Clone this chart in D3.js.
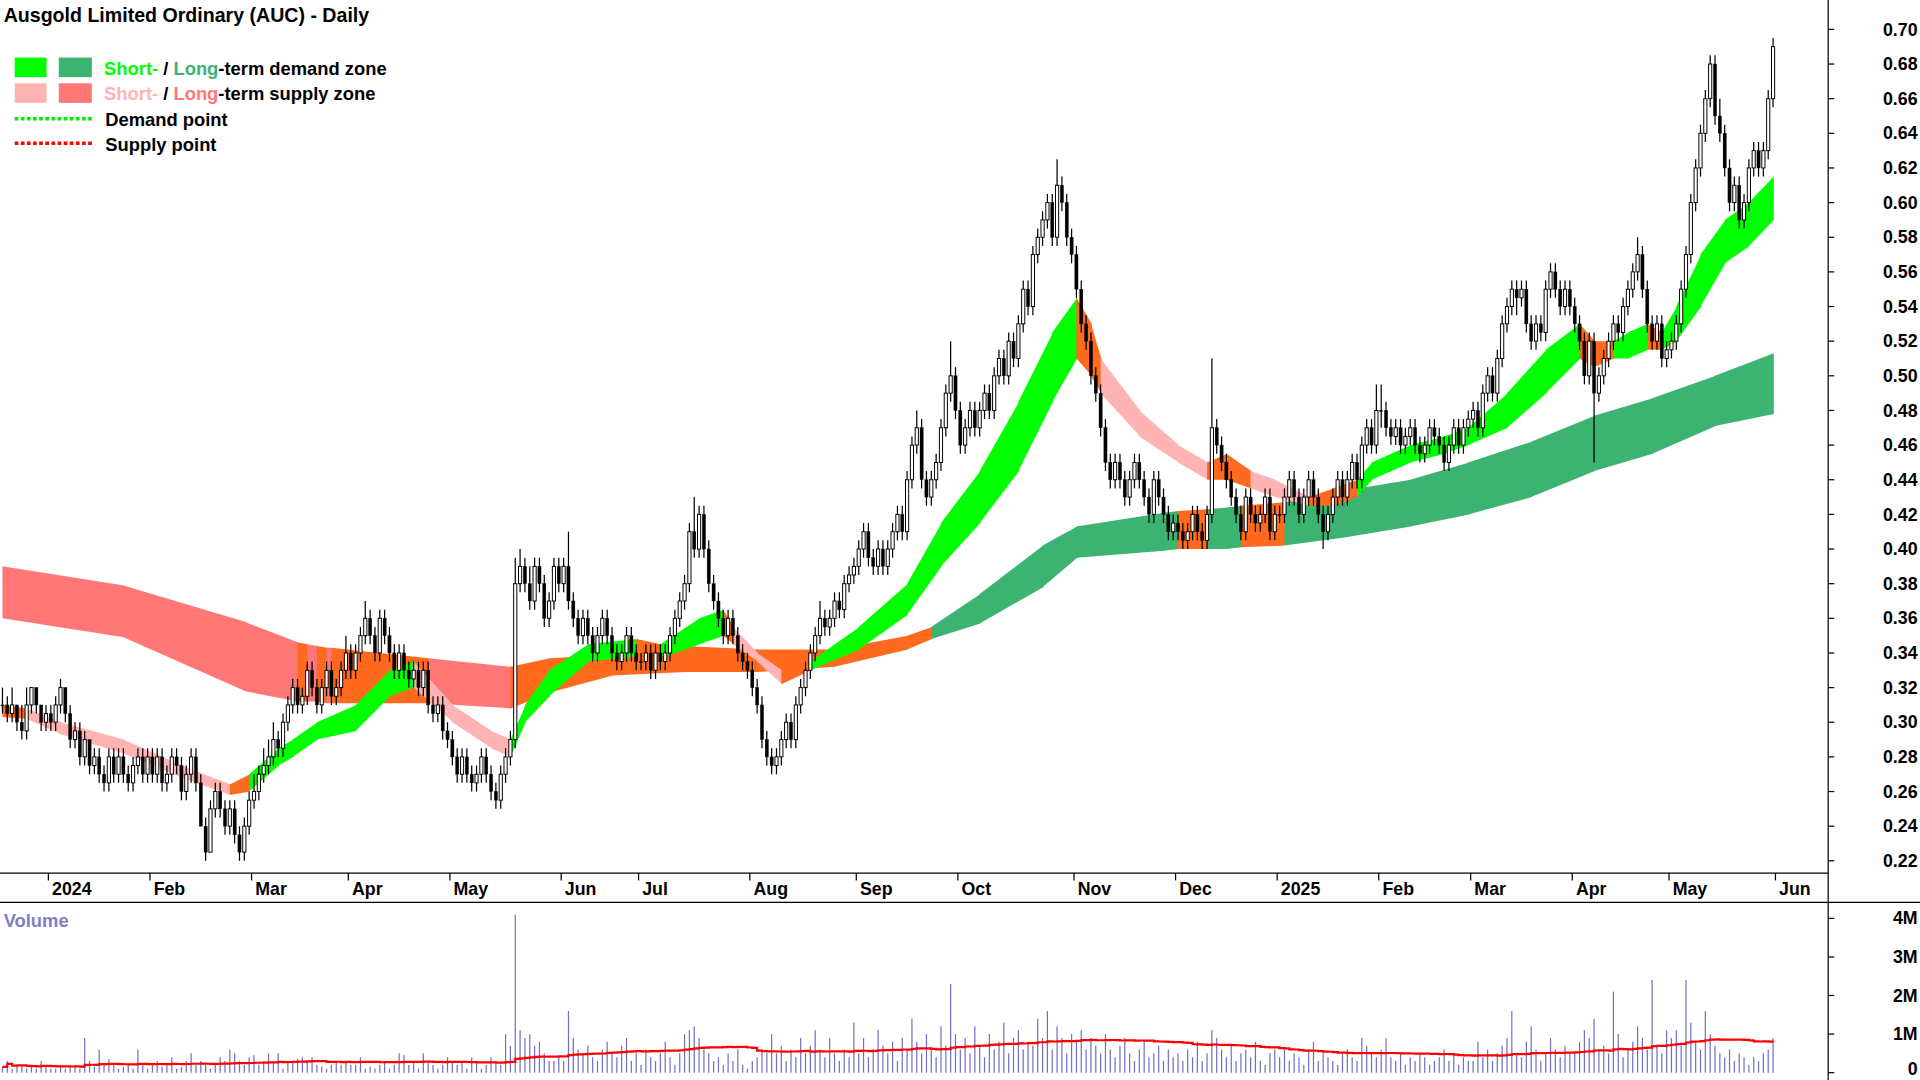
<!DOCTYPE html>
<html><head><meta charset="utf-8">
<script src="https://cdn.jsdelivr.net/npm/d3@7"></script>
<style>body{margin:0;background:#fff}svg{display:block}text{font-family:Arial,"Liberation Sans",sans-serif}</style>
</head><body>
<script>
// ---- DATA (prices in cents, one sub-array per month) ----
const monthLabels = ["", "2024","Feb","Mar","Apr","May","Jun","Jul","Aug","Sep","Oct","Nov","Dec","2025","Feb","Mar","Apr","May"];
const endLabel = "Jun";
const closes = [
[31,30.5,31,30,29.5,31,32,31,30,30.5],
[30,31,32,30.5,29,29.5,28,29,27.5,28,27,26.5,28,27,28,27,26.5,27.5,28,27,28],
[27,28,26.5,27,28,27.5,26,27,28,26.5,24,22.5,25,26,25,24,25,23.5,22.5,24,25.5],
[26,27,27.5,28,29,28.5,30,31,32,31,31.5,33,32,31,32,33,31.5,32,33,34],
[33,34,35,36,35,34,36,35,34,33,34,33,32.5,33,32,33,31,30.5,31,29.5,29],
[28,27,28,27,26.5,27,28,27,26,25.5,27,28,29,38,39,38,37,39,38,36,37,39,38],
[39,37,36,35,36,35,34,35,36,35,34,33.5,34,35,34,33.5],
[33.5,34,33,34,33.5,34,35,36,37,38,41,40,42,40,38,37,36,35,36,35,34,33.5,33],
[32,31,29,28,27.5,28,29,30,29,31,32,33,34,35,36,35.5,36,37,36.5,38,38.5,39],
[40,41,39.5,39,40,39,40,41,42,41,44,46,47,44,43,44,45,47,49,50,48],
[46,47,48,47,48,49,48,50,51,50,52,51,53,55,54,57,58,59,60,58,61,60,58,57],
[55,53,52,50,49,47,45,44,45,44,43,44,45,44,43,42,44,43,42,41,41.5],
[41,40.5,41,42,41,40.5,42,47,46,45,44,43,42,41,43,42,41.5,42,43,41,42],
[42,43,44,43,42,43,44,43,42,41,42,43,44,43,44,45,44,46,47,46,48],
[48,47,46.5,47,46,46.5,47,46,45.5,46,47,46.5,46,45,46,47,46,47,47.5],
[48,47,49,50,49,51,53,54,55,54.5,55,53,52,53,52.5,55,56,55,54,55,54],
[53,52,50,52,49,50,51,52,53,52.5,54,55,56,57,55,53,52,53,51,51.5],
[52,53,55,57,60,62,64,66,68,65,64,62,60,61,59,60,62,63,62,63,66,69]];
const opens = [
[31,31,30.5,31,30,29.5,31,32,31,30],
[30.5,30,31,32,30.5,29,29.5,28,29,27.5,28,27,26.5,28,27,28,27,26.5,27.5,28,27],
[28,27,28,26.5,27,28,27.5,26,27,28,26.5,24,22.5,25,26,25,24,25,23.5,22.5,24],
[25.5,26,27,27.5,28,29,28.5,30,31,32,31,31.5,33,32,31,32,33,31.5,32,33],
[34,33,34,35,36,35,34,36,35,34,33,34,33,32.5,33,32,33,31,30.5,31,29.5],
[29,28,27,28,27,26.5,27,28,27,26,25.5,27,28,29,38,39,38,37,39,38,36,37,39],
[38,39,37,36,35,36,35,34,35,36,35,34,33.5,34,35,34],
[33.5,33.5,34,33,34,33.5,34,35,36,37,38,41,40,42,40,38,37,36,35,36,35,34,33.5],
[33,32,31,29,28,27.5,28,29,30,29,31,32,33,34,35,36,35.5,36,37,36.5,38,38.5],
[39,40,41,39.5,39,40,39,40,41,42,41,44,46,47,44,43,44,45,47,49,50],
[48,46,47,48,47,48,49,48,50,51,50,52,51,53,55,54,57,58,59,60,58,61,60,58],
[57,55,53,52,50,49,47,45,44,45,44,43,44,45,44,43,42,44,43,42,41],
[41.5,41,40.5,41,42,41,40.5,42,47,46,45,44,43,42,41,43,42,41.5,42,43,41],
[42,42,43,44,43,42,43,44,43,42,41,42,43,44,43,44,45,44,46,47,46],
[48,48,47,46.5,47,46,46.5,47,46,45.5,46,47,46.5,46,45,46,47,46,47],
[47.5,48,47,49,50,49,51,53,54,55,54.5,55,53,52,53,52.5,55,56,55,54,55],
[54,53,52,50,52,49,50,51,52,53,52.5,54,55,56,57,55,53,52,53,51],
[51.5,52,53,55,57,60,62,64,66,68,65,64,62,60,61,59,60,62,63,62,63,66]];
const highs = [
[32,31.5,32,31,31,32,32,32,31,31],
[31,31.5,32.5,32,31,30,30,29.5,29,28.5,28.5,27.5,28.5,28.5,28.5,28.5,27.5,28,28.5,28.5,28.5],
[28.5,28.5,28.5,27.5,28.5,28.5,28,27.5,28.5,28.5,27,24.5,25.5,26.5,26.5,25.5,25.5,25.5,24,24.5,26],
[27,27.5,28.5,29,30,29.5,30.5,31.5,32.5,32.5,32,33.5,33.5,32.5,32.5,33.5,33.5,32.5,33.5,35],
[34.5,34.5,35.5,37,36.5,35.5,36.5,36.5,35.5,34.5,34.5,34.5,33.5,33.5,33.5,33.5,33.5,31.5,31.5,31.5,30],
[29.5,28.5,28.5,28.5,27.5,27.5,28.5,28.5,27.5,26.5,27.5,28.5,29.5,39.5,40,39.5,39,39.5,39.5,38.5,37.5,39.5,39.5],
[39.5,41,37.5,36.5,36.5,36.5,35.5,35.5,36.5,36.5,35.5,34.5,34.5,35.5,35.5,34.5],
[34,34.5,34.5,34.5,34.5,34.5,35.5,36.5,37.5,38.5,41.5,43,42.5,42.5,40.5,38.5,37.5,36.5,36.5,36.5,35.5,34.5,34],
[33.5,32.5,31.5,29.5,28.5,28.5,29.5,30.5,30.5,31.5,32.5,33.5,34.5,35.5,37,36.5,36.5,37.5,37.5,38.5,39,39.5],
[40.5,41.5,41.5,40,40.5,40.5,40.5,41.5,42.5,42.5,44.5,46.5,48,47.5,44.5,44.5,45.5,47.5,49.5,52,50.5],
[48.5,47.5,48.5,48.5,48.5,49.5,49.5,50.5,51.5,51.5,52.5,52.5,53.5,55.5,55.5,57.5,58.5,59.5,60.5,60.5,62.5,61.5,60.5,58.5],
[57.5,55.5,53.5,52.5,50.5,49.5,47.5,45.5,45.5,45.5,44.5,44.5,45.5,45.5,44.5,43.5,44.5,44.5,43.5,42.5,42],
[42,41.5,41.5,42.5,42.5,41.5,42.5,51,47.5,46.5,45.5,44.5,43.5,42.5,43.5,43.5,42.5,42.5,43.5,43.5,42.5],
[42.5,43.5,44.5,44.5,43.5,43.5,44.5,44.5,43.5,42.5,42.5,43.5,44.5,44.5,44.5,45.5,45.5,46.5,47.5,47.5,49.5],
[49.5,48.5,47.5,47.5,47.5,47,47.5,47.5,46.5,46.5,47.5,47.5,47,46.5,46.5,47.5,47.5,47.5,48],
[48.5,48.5,49.5,50.5,50.5,51.5,53.5,54.5,55.5,55.5,55.5,55.5,53.5,53.5,53.5,55.5,56.5,56.5,55.5,55.5,55.5],
[54.5,53.5,52.5,52.5,52.5,50.5,51.5,52.5,53.5,53.5,54.5,55.5,56.5,58,57.5,55.5,53.5,53.5,53.5,52],
[52.5,53.5,55.5,57.5,60.5,62.5,64.5,66.5,68.5,68.5,66,64.5,62.5,61.5,61.5,60.5,62.5,63.5,63.5,63.5,66.5,69.5]];
const lows = [
[30.5,30,30,29.5,29,29,30.5,30.5,29.5,29.5],
[29.5,29.5,30.5,30,28.5,28.5,27.5,27.5,27,27,26.5,26,26,26.5,26.5,26.5,26,26,27,26.5,26.5],
[26.5,26.5,26,26,26.5,27,25.5,25.5,26.5,26,24,22,22.5,24.5,24.5,23.5,23.5,23,22,22,23.5],
[25,25.5,26.5,27,27.5,28,28,29.5,30.5,30.5,30.5,31,31.5,30.5,30.5,31.5,31,31,31.5,32.5],
[32.5,32.5,33.5,34.5,34.5,33.5,33.5,34.5,33.5,32.5,32.5,32.5,32,32,31.5,31.5,30.5,30,30,29,28.5],
[27.5,26.5,26.5,26.5,26,26,26.5,26.5,25.5,25,25,26.5,27.5,28.5,37.5,37.5,36.5,36.5,37.5,35.5,35.5,36.5,37.5],
[37.5,36.5,35.5,34.5,34.5,34.5,33.5,33.5,34.5,34.5,33.5,33,33,33.5,33.5,33],
[33,33,32.5,32.5,33,33,33.5,34.5,35.5,36.5,37.5,39.5,39.5,39.5,37.5,36.5,35.5,34.5,34.5,34.5,33.5,33,32.5],
[31.5,30.5,28.5,27.5,27,27,27.5,28.5,28.5,28.5,30.5,31.5,32.5,33.5,34.5,35,35,35.5,36,36,37.5,38],
[38.5,39.5,39,38.5,38.5,38.5,38.5,39.5,40.5,40.5,40.5,43.5,45.5,43.5,42.5,42.5,43.5,44.5,46.5,48.5,47.5],
[45.5,45.5,46.5,46.5,46.5,47.5,47.5,47.5,49.5,49.5,49.5,50.5,50.5,52.5,53.5,53.5,56.5,57.5,58.5,57.5,57.5,59.5,57.5,56.5],
[54.5,52.5,51.5,49.5,48.5,46.5,44.5,43.5,43.5,43.5,42.5,42.5,43.5,43.5,42.5,41.5,41.5,42.5,41.5,40.5,40.5],
[40.5,40,40,40.5,40.5,40,40,41.5,45.5,44.5,43.5,42.5,41.5,40.5,40.5,41.5,41,41,41.5,40.5,40.5],
[41.5,41.5,42.5,42.5,41.5,41.5,42.5,42.5,41.5,40,40.5,41.5,42.5,42.5,42.5,43.5,43.5,43.5,45.5,45.5,45.5],
[47,46.5,46,46,45.5,45.5,46,45.5,45,45,45.5,46,45.5,44.5,44.5,45.5,45.5,45.5,46.5],
[47,46.5,46.5,48.5,48.5,48.5,50.5,52.5,53.5,53.5,54,52.5,51.5,51.5,52,52,54.5,54.5,53.5,53.5,53.5],
[52.5,51.5,49.5,49.5,45,48.5,49.5,50.5,51.5,52,52,53.5,54.5,55.5,54.5,52.5,51.5,51.5,50.5,50.5],
[51,51.5,52.5,54.5,56.5,59.5,61.5,63.5,65.5,64.5,63.5,61.5,59.5,59.5,58.5,58.5,59.5,61.5,61.5,61.5,62.5,65.5]];
// volume in millions
const volumes = [
[.15,.3,.1,.2,.2,.1,.15,.1,.3,.15],
[.1,.1,.2,.1,.15,.2,.1,.9,.3,.15,.6,.2,.35,.2,.1,.15,.2,.1,.6,.25,.1],
[.2,.3,.15,.25,.4,.1,.15,.3,.5,.2,.3,.2,.1,.2,.4,.3,.6,.5,.3,.2,.4],
[.45,.2,.3,.5,.25,.5,.1,.3,.25,.35,.4,.3,.4,.2,.15,.1,.2,.3,.2,.3],
[.2,.2,.4,.1,.15,.1,.2,.3,.1,.2,.5,.45,.2,.3,.1,.5,.3,.2,.1,.2,.4],
[.25,.2,.3,.1,.4,.3,.1,.2,.4,.3,.2,1.0,.7,4.1,1.1,.9,1.0,.7,.8,.5,.3,.3,.4],
[.3,1.6,.9,.6,.5,.7,.4,.3,.6,.8,.5,.4,.7,.9,.3,.5],
[.2,.6,.4,.3,.5,.8,.4,.2,.5,1.0,1.1,1.2,.9,.6,.5,.3,.4,.2,.5,.3,.6,.2,.1],
[.3,.4,.6,.5,1.0,.5,.7,.3,.6,.4,.9,.5,.7,1.1,.6,.4,.9,.5,.3,.6,.4,1.3],
[.5,.9,.4,.6,1.1,.7,.5,.8,.3,.9,.6,1.4,.8,.5,1.0,.6,.4,1.2,.7,2.3,1.0],
[.6,.9,.5,1.2,.7,.4,1.0,.6,.8,1.3,.5,.9,1.1,.6,.8,.7,1.4,.9,1.6,.6,1.2,.9,.5,1.0],
[.8,1.1,.6,.9,.7,.5,1.0,.6,.4,.7,.9,.5,.3,.6,.8,.4,.5,.7,.3,.6,.4],
[.5,.3,.6,.4,.8,.3,.5,1.1,.9,.6,.4,.7,.3,.5,.6,.4,.8,.3,.2,.5,.6],
[.4,.6,.3,.5,.4,.2,.6,.8,.3,.5,.4,.3,.2,.5,.6,.4,.3,.9,.7,.5,.4],
[.6,.9,.4,.3,.5,.2,.4,.3,.5,.4,.2,.3,.4,.6,.3,.5,.2,.4,.3],
[.3,.8,.4,.6,.3,.5,.7,.9,1.6,.5,.4,.8,1.2,.6,.3,.5,.9,.6,.4,.7,.5],
[.5,.8,1.1,.9,1.4,.6,.7,.5,2.1,1.0,.4,.6,.8,1.2,.9,.6,2.4,.7,.5,1.1],
[.9,1.1,.7,2.4,1.3,.8,.6,1.6,1.0,.7,.5,.4,.6,.3,.5,.4,.2,.4,.3,.5,.6,.9]];
// zones: bar index, upper, lower (dollars), state of the segment that starts there
const shortIdx = [0,5,12,25,37,47,51,57,60,65,73,80,85,93,101,105,108,113,121,131,136,144,149,151,156,161,167,177,187,194,202,210,217,222,225,227,235,243,249,253,258,263,270,275,280,283,291,298,303,311,319,326,329,333,336,340,343,346,351,356,361,366];
const shortUp = [.31,.308,.30,.29,.275,.264,.27,.285,.29,.30,.31,.33,.335,.31,.295,.29,.31,.33,.345,.348,.345,.36,.365,.355,.34,.33,.335,.355,.38,.415,.445,.485,.525,.545,.53,.51,.48,.46,.45,.455,.445,.44,.43,.435,.44,.45,.46,.465,.47,.49,.515,.53,.52,.52,.525,.53,.525,.54,.57,.59,.60,.615];
const shortLo = [.303,.302,.293,.282,.268,.258,.26,.275,.28,.29,.295,.315,.32,.30,.285,.28,.30,.315,.335,.338,.337,.345,.35,.345,.335,.322,.33,.342,.362,.39,.415,.445,.485,.51,.50,.49,.465,.45,.44,.44,.435,.43,.425,.425,.43,.44,.45,.455,.46,.47,.49,.51,.505,.51,.51,.515,.515,.52,.54,.565,.575,.59];
const shortState = "opppposggggggppppggggoggoppoggggggggooppppooppoogggggggooggoggggg".replace("s","");
const longIdx = [0,25,50,61,63,65,67,68,88,105,113,126,141,156,172,187,192,202,215,222,240,243,249,253,256,265,278,291,303,316,329,341,354,366];
const longUp = [.39,.379,.358,.346,.345,.344,.343,.343,.337,.332,.337,.339,.344,.342,.342,.35,.355,.374,.402,.413,.421,.422,.423,.424,.425,.427,.434,.44,.45,.462,.477,.487,.50,.513];
const longLo = [.36,.349,.318,.312,.312,.312,.311,.311,.311,.308,.317,.327,.329,.329,.332,.342,.348,.357,.378,.395,.399,.40,.40,.40,.401,.402,.407,.413,.42,.43,.445,.455,.471,.478];
const longState = "rrrororor" + "ooooooo" + "GGGGG" + "o" + "GG" + "o" + "GGGGGGGG";
const priceTicks = [.22,.24,.26,.28,.30,.32,.34,.36,.38,.40,.42,.44,.46,.48,.50,.52,.54,.56,.58,.60,.62,.64,.66,.68,.70];
const volTicks = [0,1,2,3,4];

// ---- build ----
const shortSt = "oppppo" + "gggggg" + "ppp" + "gggg" + "o" + "gg" + "o" + "pp" + "o" + "ggggggg" + "oo" + "ppp" + "oo" + "pp" + "oo" + "ggggggg" + "oo" + "gg" + "o" + "ggggg";
const bars = [], monthStart = [];
closes.forEach((m, mi) => {
  monthStart.push(bars.length);
  m.forEach((c, j) => {
    const o = opens[mi][j] ?? c;
    bars.push({o, c, h: highs[mi][j] ?? Math.max(o,c), l: lows[mi][j] ?? Math.min(o,c), v: volumes[mi][j] ?? 0.3});
  });
});
const N = bars.length;
const svg = d3.select("body").append("svg").attr("width",1920).attr("height",1080).attr("viewBox","0 0 1568 882");
const x = d3.scaleLinear().domain([0, 366]).range([2, 1448]);
const y = d3.scaleLinear().domain([0.22, 0.70]).range([703, 24]);
const yv = d3.scaleLinear().domain([0, 4]).range([876, 750]);
const COL = {g:"#00ff00", G:"#3cb371", p:"#ffb3b3", r:"#ff7777", o:"#ff6a1f"};

svg.append("clipPath").attr("id","pc").append("rect").attr("x",0).attr("y",0).attr("width",1493).attr("height",712);
const pg = svg.append("g").attr("clip-path","url(#pc)");
function drawZone(idx, up, lo, st) {
  for (let k = 0; k < idx.length - 1; k++) {
    const pts = [[x(idx[k]), y(up[k])], [x(idx[k+1]) + 0.6, y(up[k+1])], [x(idx[k+1]) + 0.6, y(lo[k+1])], [x(idx[k]), y(lo[k])]];
    pg.append("path").attr("d", "M" + pts.join("L") + "Z").attr("fill", COL[st[k]] || COL.g);
  }
}
drawZone(longIdx, longUp, longLo, longState);
drawZone(shortIdx, shortUp, shortLo, shortSt);

// candles
const bw = 2.6;
const cg = pg.append("g");
bars.forEach((b, i) => {
  const cx = x(i);
  cg.append("line").attr("x1", cx).attr("x2", cx).attr("y1", y(b.h/100)).attr("y2", y(b.l/100)).attr("stroke","#000").attr("stroke-width",1);
  const top = y(Math.max(b.o,b.c)/100), bot = y(Math.min(b.o,b.c)/100);
  const up = b.c > b.o;
  cg.append("rect").attr("x", cx - bw/2).attr("y", top).attr("width", bw).attr("height", Math.max(bot - top, 0.8))
    .attr("fill", up ? "#fff" : "#000").attr("stroke","#000").attr("stroke-width", up ? 0.8 : 0.3);
});

// frame lines
const ax = 1493;
svg.append("line").attr("x1",ax).attr("x2",ax).attr("y1",0).attr("y2",882).attr("stroke","#000").attr("stroke-width",1);
svg.append("line").attr("x1",0).attr("x2",ax).attr("y1",713).attr("y2",713).attr("stroke","#000");
svg.append("line").attr("x1",0).attr("x2",1568).attr("y1",737).attr("y2",737).attr("stroke","#000");

// price axis
priceTicks.forEach(t => {
  svg.append("line").attr("x1",ax).attr("x2",ax+5).attr("y1",y(t)).attr("y2",y(t)).attr("stroke","#000");
  svg.append("text").attr("x",1566).attr("y",y(t)+5).attr("text-anchor","end").attr("font-size",14.5).attr("font-weight","bold").text(t.toFixed(2));
});
volTicks.forEach(t => {
  svg.append("line").attr("x1",ax).attr("x2",ax+5).attr("y1",yv(t)).attr("y2",yv(t)).attr("stroke","#000");
  svg.append("text").attr("x",1566).attr("y",Math.min(yv(t)+5,878)).attr("text-anchor","end").attr("font-size",14.5).attr("font-weight","bold").text(t === 0 ? "0" : t + "M");
});

// month axis
const mlab = monthLabels.map((l, i) => ({l, i: monthStart[i]})).concat([{l: endLabel, i: N}]);
mlab.forEach(m => {
  if (!m.l) return;
  const tx = x(m.i) - 2;
  svg.append("line").attr("x1",tx).attr("x2",tx).attr("y1",713).attr("y2",719).attr("stroke","#000");
  svg.append("text").attr("x",tx+3).attr("y",731).attr("font-size",14.5).attr("font-weight","bold").text(m.l);
});

// volume
const vg = svg.append("g");
bars.forEach((b, i) => {
  vg.append("line").attr("x1",x(i)).attr("x2",x(i)).attr("y1",yv(0)).attr("y2",yv(b.v)).attr("stroke","#7070cc").attr("stroke-width",1);
});
const ma = bars.map((b, i) => d3.mean(bars.slice(Math.max(0, i - 49), i + 1), d => d.v));
svg.append("path").datum(ma).attr("d", d3.line().x((d,i) => x(i)).y(d => yv(d)).curve(d3.curveStepAfter))
  .attr("fill","none").attr("stroke","#ff0000").attr("stroke-width",1.8);
svg.append("text").attr("x",3).attr("y",757).attr("font-size",15).attr("font-weight","bold").attr("fill","#8080c0").text("Volume");

// title + legend
svg.append("text").attr("x",3).attr("y",18).attr("font-size",16).attr("font-weight","bold").text("Ausgold Limited Ordinary (AUC) - Daily");
[["g","G",55,[["Short-","#00ff00"],[" / ","#000"],["Long","#3cb371"],["-term demand zone","#000"]]],
 ["p","r",76,[["Short-","#ffb3b3"],[" / ","#000"],["Long","#ff7777"],["-term supply zone","#000"]]]].forEach(r => {
  svg.append("rect").attr("x",12).attr("y",r[2]-8).attr("width",26).attr("height",16).attr("fill",COL[r[0]]);
  svg.append("rect").attr("x",48).attr("y",r[2]-8).attr("width",27).attr("height",16).attr("fill",COL[r[1]]);
  const t = svg.append("text").attr("x",85).attr("y",r[2]+6).attr("font-size",15).attr("font-weight","bold");
  r[3].forEach(s => t.append("tspan").attr("fill",s[1]).text(s[0]));
});
[["Demand point","#00ee00",97],["Supply point","#ff0000",117]].forEach(r => {
  svg.append("line").attr("x1",12).attr("x2",75).attr("y1",r[2]).attr("y2",r[2]).attr("stroke",r[1]).attr("stroke-width",3).attr("stroke-dasharray","3,2");
  svg.append("text").attr("x",86).attr("y",r[2]+6).attr("font-size",15).attr("font-weight","bold").text(r[0]);
});
</script>
</body></html>
